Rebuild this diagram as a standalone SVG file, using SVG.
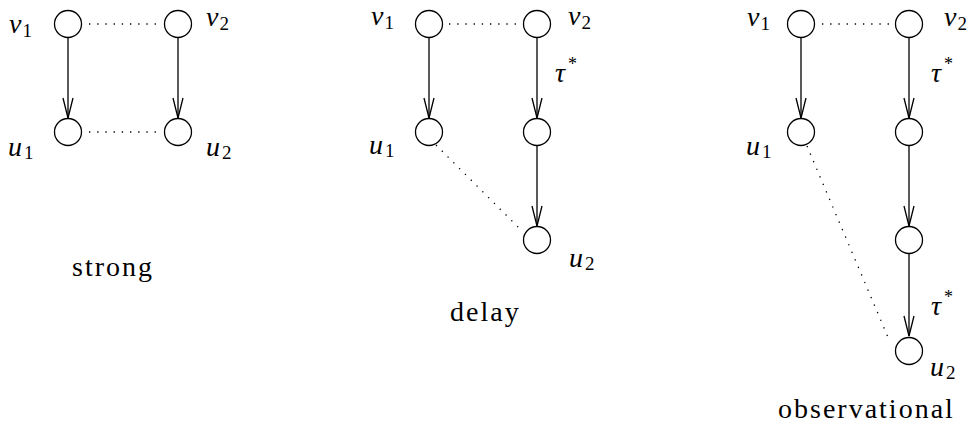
<svg xmlns="http://www.w3.org/2000/svg" width="973" height="427" viewBox="0 0 973 427">
<style>
.node{fill:none;stroke:#000;stroke-width:1.3}
.arr{fill:none;stroke:#000;stroke-width:1.3;marker-end:url(#ah)}
.dot{fill:none;stroke:#000;stroke-width:1.3;stroke-dasharray:1.3 6.9}
text{font-family:'Liberation Serif','DejaVu Serif',serif;fill:#000}
.m{font-style:italic;font-size:28px}
.s{font-style:normal;font-size:19px}
.sup{font-style:normal;font-size:18px}
.cap{font-size:28px;letter-spacing:2px}
</style>
<defs>
<marker id="ah" markerUnits="userSpaceOnUse" viewBox="-21 -6 22 12" refX="0" refY="0" markerWidth="22" markerHeight="12" orient="auto">
<path d="M -20 -5 L 0 0 L -20 5" fill="none" stroke="#000" stroke-width="1.3"/>
</marker>
</defs>
<rect width="973" height="427" fill="#fff"/>

<g id="connectors">
<line class="dot" x1="89" y1="24" x2="162" y2="24"/>
<line class="dot" x1="89" y1="132" x2="162" y2="132"/>
<line class="arr" x1="68" y1="37" x2="68" y2="118"/>
<line class="arr" x1="178" y1="37" x2="178" y2="118"/>
<line class="dot" x1="449" y1="24" x2="522" y2="24"/>
<line class="arr" x1="429" y1="37" x2="429" y2="118"/>
<line class="arr" x1="537" y1="37" x2="537" y2="118"/>
<line class="arr" x1="537" y1="145" x2="537" y2="226"/>
<line class="dot" x1="436" y1="145" x2="523" y2="232"/>
<line class="dot" x1="822" y1="24" x2="895" y2="24"/>
<line class="arr" x1="801" y1="37" x2="801" y2="118"/>
<line class="arr" x1="909" y1="37" x2="909" y2="118"/>
<line class="arr" x1="909" y1="145" x2="909" y2="226"/>
<line class="arr" x1="909" y1="254" x2="909" y2="336"/>
<line class="dot" x1="807" y1="146" x2="890" y2="342"/>
</g>

<g id="strong-v1"><circle class="node" cx="68" cy="24" r="13.5"/><text class="m" x="9" y="33">v<tspan class="s" dx="1" dy="4">1</tspan></text></g>
<g id="strong-v2"><circle class="node" cx="178" cy="24" r="13.5"/><text class="m" x="206" y="26">v<tspan class="s" dx="1" dy="4">2</tspan></text></g>
<g id="strong-u1"><circle class="node" cx="68" cy="132" r="13.5"/><text class="m" x="8" y="156">u<tspan class="s" dx="2" dy="3">1</tspan></text></g>
<g id="strong-u2"><circle class="node" cx="178" cy="132" r="13.5"/><text class="m" x="206" y="156">u<tspan class="s" dx="2" dy="3">2</tspan></text></g>
<text class="cap" x="72" y="276">strong</text>

<g id="delay-v1"><circle class="node" cx="429" cy="24" r="13.5"/><text class="m" x="371" y="25">v<tspan class="s" dx="1" dy="4">1</tspan></text></g>
<g id="delay-v2"><circle class="node" cx="537" cy="24" r="13.5"/><text class="m" x="568" y="25">v<tspan class="s" dx="1" dy="4">2</tspan></text></g>
<g id="delay-m"><circle class="node" cx="537" cy="132" r="13.5"/></g>
<g id="delay-u1"><circle class="node" cx="429" cy="132" r="13.5"/><text class="m" x="369" y="154">u<tspan class="s" dx="2" dy="3">1</tspan></text></g>
<g id="delay-u2"><circle class="node" cx="537" cy="240" r="13.5"/><text class="m" x="569" y="267">u<tspan class="s" dx="2" dy="3">2</tspan></text></g>
<text class="m" x="555" y="82">τ<tspan class="sup" dx="3" dy="-12">*</tspan></text>
<text class="cap" x="450" y="321">delay</text>

<g id="obs-v1"><circle class="node" cx="801" cy="24" r="13.5"/><text class="m" x="747" y="26">v<tspan class="s" dx="1" dy="4">1</tspan></text></g>
<g id="obs-v2"><circle class="node" cx="909" cy="24" r="13.5"/><text class="m" x="944" y="26">v<tspan class="s" dx="1" dy="4">2</tspan></text></g>
<g id="obs-u1"><circle class="node" cx="801" cy="132" r="13.5"/><text class="m" x="746" y="155">u<tspan class="s" dx="2" dy="3">1</tspan></text></g>
<g id="obs-m1"><circle class="node" cx="909" cy="132" r="13.5"/></g>
<g id="obs-m2"><circle class="node" cx="909" cy="240" r="13.5"/></g>
<g id="obs-u2"><circle class="node" cx="909" cy="351" r="13.5"/><text class="m" x="930" y="376">u<tspan class="s" dx="2" dy="3">2</tspan></text></g>
<text class="m" x="931" y="82">τ<tspan class="sup" dx="3" dy="-12">*</tspan></text>
<text class="m" x="931" y="315">τ<tspan class="sup" dx="3" dy="-12">*</tspan></text>
<text class="cap" x="778" y="418">observational</text>
</svg>
